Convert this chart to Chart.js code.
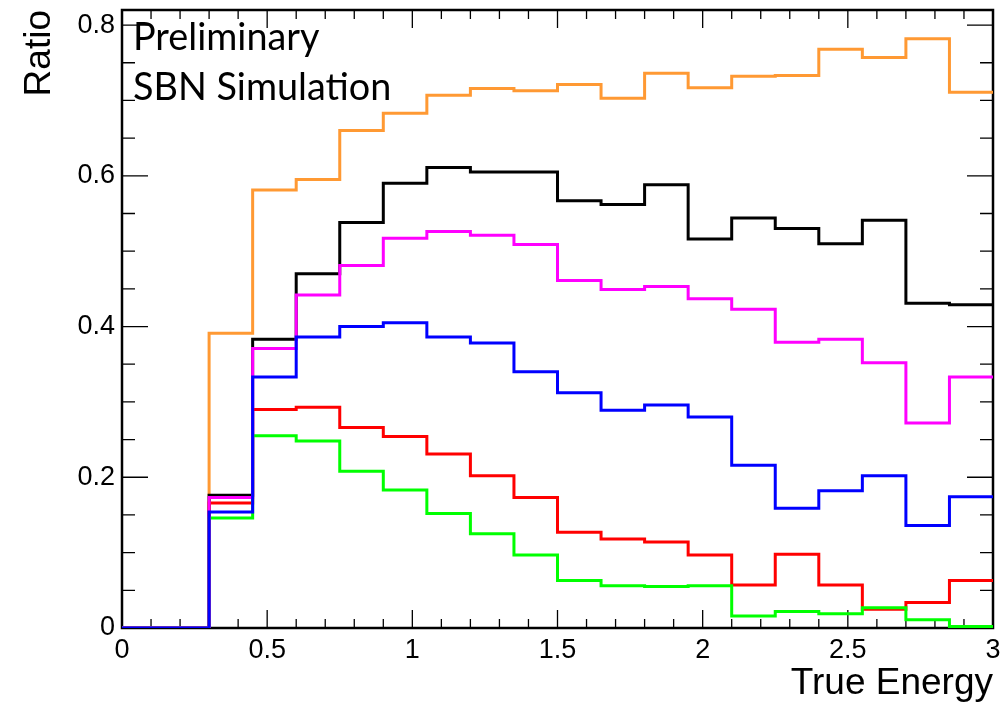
<!DOCTYPE html>
<html><head><meta charset="utf-8">
<script src="https://cdn.jsdelivr.net/npm/chart.js@4.4.1/dist/chart.umd.min.js"></script>
<style>html,body{margin:0;padding:0;background:#fff;overflow:hidden}#wrap{width:1007px;height:702px}</style>
</head><body><div id="wrap"><canvas id="c" width="1007" height="702"></canvas></div>
<script>
// Bin edges (True Energy), 20 bins of 0.15
const binEdges = [0,0.15,0.3,0.45,0.6,0.75,0.9,1.05,1.2,1.35,1.5,1.65,1.8,1.95,2.1,2.25,2.4,2.55,2.7,2.85,3.0];
// Series values (ratio per bin)
const orangeVals  = [0,0,0.391,0.581,0.595,0.660,0.683,0.707,0.716,0.713,0.721,0.703,0.736,0.717,0.732,0.733,0.768,0.757,0.782,0.711];
const blackVals   = [0,0,0.176,0.383,0.470,0.538,0.590,0.611,0.605,0.605,0.567,0.562,0.588,0.516,0.544,0.530,0.510,0.541,0.431,0.429];
const magentaVals = [0,0,0.173,0.371,0.442,0.481,0.517,0.526,0.521,0.509,0.461,0.449,0.453,0.437,0.423,0.379,0.383,0.352,0.272,0.333];
const blueVals    = [0,0,0.154,0.333,0.386,0.400,0.405,0.386,0.378,0.340,0.312,0.289,0.296,0.280,0.216,0.159,0.182,0.202,0.136,0.174];
const redVals     = [0,0,0.166,0.290,0.293,0.266,0.254,0.231,0.202,0.173,0.127,0.118,0.114,0.097,0.057,0.098,0.057,0.025,0.034,0.063];
const greenVals   = [0,0,0.146,0.255,0.248,0.208,0.183,0.152,0.125,0.097,0.063,0.056,0.055,0.056,0.016,0.022,0.019,0.027,0.011,0.002];
// Axis tick labels
const xTickValues = [0,0.5,1,1.5,2,2.5,3];
const xTickLabels = ['0','0.5','1','1.5','2','2.5','3'];
const yTickValues = [0,0.2,0.4,0.6,0.8];
const yTickLabels = ['0','0.2','0.4','0.6','0.8'];
const xTitle = 'True Energy';
const yTitle = 'Ratio';
const annotLines = ['Preliminary','SBN Simulation'];

function histPoints(vals){
  const pts = vals.map((v,i)=>({x: binEdges[i], y: v}));
  pts.push({x: binEdges[binEdges.length-1], y: vals[vals.length-1]});
  return pts;
}
function ds(vals, color){
  return {data: histPoints(vals), borderColor: color, backgroundColor: color, borderWidth: 3,
    stepped: 'before', pointRadius: 0, fill: false, tension: 0};
}

Chart.defaults.font.family = "'Liberation Sans', Arial, Helvetica, sans-serif";
Chart.defaults.color = '#000';

const framePlugin = {
  id: 'frame',
  beforeDatasetsDraw(chart){
    const {ctx, chartArea:{left,right,top,bottom}, scales:{x,y}} = chart;
    ctx.save();
    ctx.strokeStyle = '#000';
    ctx.lineWidth = 1.3;
    ctx.beginPath();
    for (let i=0;i<=30;i++){
      const px = x.getPixelForValue(i/10);
      const len = (i%5===0) ? 18 : 9;
      ctx.moveTo(px,bottom); ctx.lineTo(px,bottom-len);
      ctx.moveTo(px,top); ctx.lineTo(px,top+len);
    }
    for (let j=0;j<=16;j++){
      const py = y.getPixelForValue(j*0.05);
      const len = (j%4===0) ? 26 : 13;
      ctx.moveTo(left,py); ctx.lineTo(left+len,py);
      ctx.moveTo(right,py); ctx.lineTo(right-len,py);
    }
    ctx.stroke();
    ctx.lineWidth = 2.5;
    ctx.strokeRect(left,top,right-left,bottom-top);
    ctx.restore();
  },
  afterDraw(chart){
    const {ctx, chartArea:{left,top}} = chart;
    ctx.save();
    ctx.fillStyle = '#000';
    ctx.textBaseline = 'alphabetic';
    ctx.textAlign = 'left';
    ctx.font = "34px Lato, 'Open Sans', sans-serif";
    const w = ctx.measureText(annotLines[1]).width;
    const size = 34*258/w;
    ctx.font = size.toFixed(1)+"px Lato, 'Open Sans', sans-serif";
    ctx.fillText(annotLines[0], left+11, top+40);
    ctx.fillText(annotLines[1], left+11, top+90);
    ctx.restore();
  }
};

new Chart(document.getElementById('c'), {
  type: 'line',
  data: { datasets: [
    ds(blueVals,'#0000ff'),
    ds(magentaVals,'#ff00ff'),
    ds(greenVals,'#00ff00'),
    ds(redVals,'#ff0000'),
    ds(blackVals,'#000000'),
    ds(orangeVals,'#ff9933')
  ]},
  options: {
    responsive: false, animation: false, devicePixelRatio: 1,
    layout: {padding: {left:0, right:14, top:10, bottom:0}},
    plugins: {legend:{display:false}, tooltip:{enabled:false}},
    scales: {
      x: {
        type:'linear', min:0, max:3,
        afterBuildTicks: s => { s.ticks = xTickValues.map(v=>({value:v})); },
        ticks: {font:{size:27}, color:'#000', padding:6, maxRotation:0, autoSkip:false,
          callback: (v,i) => xTickLabels[i]},
        grid: {display:false, drawTicks:false},
        border: {display:false},
        title: {display:true, text:xTitle, align:'end', color:'#000', font:{size:37, lineHeight:1}, padding:{top:0,bottom:0}},
        afterFit: s => { s.height = 74; s.paddingLeft = 0; s.paddingRight = 0; }
      },
      y: {
        type:'linear', min:0, max:0.82,
        afterBuildTicks: s => { s.ticks = yTickValues.map(v=>({value:v})); },
        ticks: {font:{size:27}, color:'#000', padding:7, autoSkip:false,
          callback: (v,i) => yTickLabels[i]},
        grid: {display:false, drawTicks:false},
        border: {display:false},
        title: {display:true, text:yTitle, align:'end', color:'#000', font:{size:37, lineHeight:1}, padding:{top:21,bottom:0}},
        afterFit: s => { s.width = 122; s.paddingTop = 0; s.paddingBottom = 0; }
      }
    }
  },
  plugins: [framePlugin]
});
</script>
</body></html>
